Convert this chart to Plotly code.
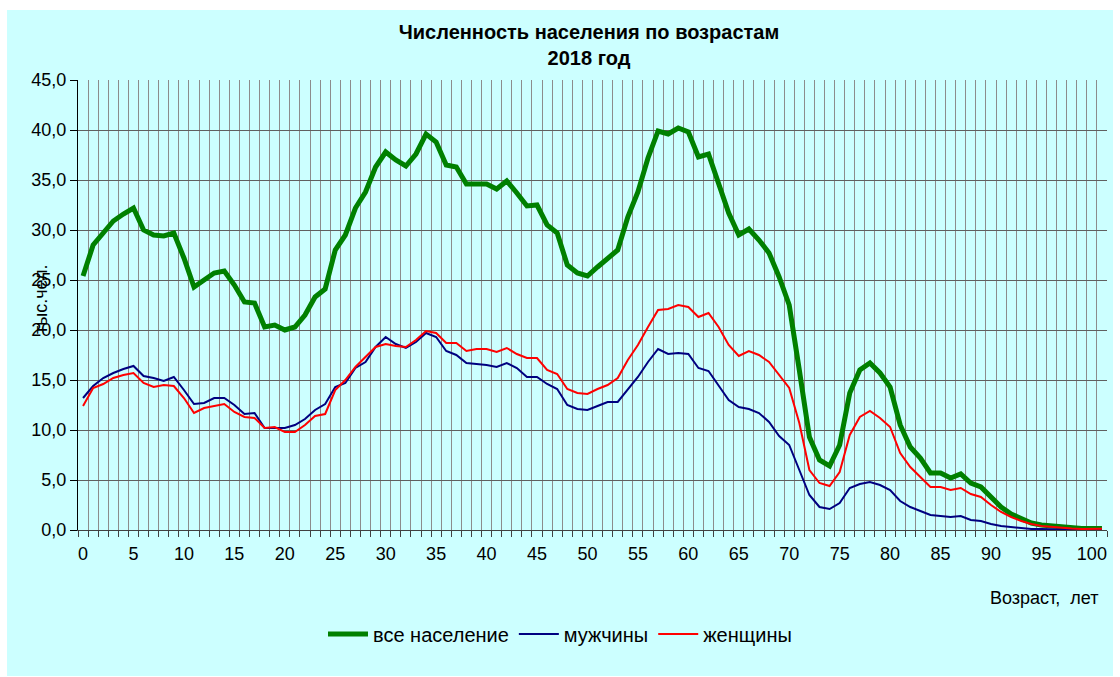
import plotly.graph_objects as go

ages = list(range(0, 102))

total = [
    25.4, 28.5, 29.7, 30.9, 31.6, 32.2, 30.0, 29.5, 29.4, 29.7,
    27.2, 24.3, 25.0, 25.7, 25.9, 24.5, 22.8, 22.7, 20.3, 20.5,
    20.0, 20.3, 21.5, 23.3, 24.1, 28.0, 29.5, 32.2, 33.8, 36.3,
    37.8, 37.0, 36.4, 37.6, 39.6, 38.8, 36.5, 36.3, 34.6, 34.6,
    34.6, 34.1, 34.9, 33.7, 32.4, 32.5, 30.5, 29.7, 26.5, 25.7,
    25.4, 26.3, 27.2, 28.0, 31.3, 33.8, 37.2, 39.9, 39.6, 40.2,
    39.8, 37.3, 37.6, 34.7, 31.7, 29.5, 30.1, 29.0, 27.7, 25.3,
    22.5, 16.0, 9.3, 7.0, 6.4, 8.5, 13.7, 16.0, 16.7, 15.7,
    14.3, 10.5, 8.3, 7.2, 5.7, 5.7, 5.2, 5.6, 4.7, 4.3,
    3.3, 2.3, 1.6, 1.1, 0.7, 0.5, 0.4, 0.3, 0.2, 0.15,
    0.15, 0.15,
]

men = [
    13.2, 14.4, 15.2, 15.7, 16.1, 16.4, 15.4, 15.2, 14.9, 15.3,
    14.0, 12.6, 12.7, 13.2, 13.2, 12.5, 11.6, 11.7, 10.2, 10.2,
    10.2, 10.5, 11.1, 12.0, 12.6, 14.3, 14.7, 16.2, 16.8, 18.3,
    19.3, 18.6, 18.2, 18.8, 19.7, 19.3, 17.9, 17.5, 16.7, 16.6,
    16.5, 16.3, 16.7, 16.2, 15.3, 15.3, 14.6, 14.1, 12.5, 12.1,
    12.0, 12.4, 12.8, 12.8, 14.0, 15.3, 16.8, 18.1, 17.6, 17.7,
    17.6, 16.2, 15.9, 14.5, 13.0, 12.3, 12.1, 11.7, 10.8, 9.4,
    8.5, 6.0, 3.5, 2.3, 2.1, 2.7, 4.2, 4.6, 4.8, 4.5,
    4.0, 2.9, 2.3, 1.9, 1.5, 1.4, 1.3, 1.4, 1.0, 0.9,
    0.6, 0.4, 0.3, 0.2, 0.1, 0.1, 0.05, 0.04, 0.03, 0.03,
    0.03, 0.02,
]

women = [
    12.4, 14.2, 14.6, 15.2, 15.5, 15.7, 14.7, 14.3, 14.5, 14.4,
    13.2, 11.7, 12.2, 12.4, 12.6, 11.8, 11.3, 11.2, 10.2, 10.3,
    9.8, 9.8, 10.5, 11.4, 11.6, 14.0, 15.0, 16.3, 17.3, 18.3,
    18.6, 18.4, 18.3, 19.0, 19.9, 19.7, 18.7, 18.7, 17.9, 18.1,
    18.1, 17.8, 18.2, 17.6, 17.2, 17.2, 16.0, 15.6, 14.1, 13.7,
    13.6, 14.1, 14.5, 15.2, 17.0, 18.5, 20.3, 22.0, 22.1, 22.5,
    22.3, 21.3, 21.7, 20.3, 18.5, 17.4, 17.9, 17.5, 16.8, 15.5,
    14.2, 10.7, 6.0, 4.7, 4.4, 5.8, 9.5, 11.3, 11.9, 11.2,
    10.3, 7.7, 6.3, 5.3, 4.3, 4.3, 4.0, 4.2, 3.6, 3.3,
    2.5, 1.8, 1.3, 0.9, 0.6, 0.4, 0.3, 0.25, 0.15, 0.1,
    0.12, 0.12,
]

x_tick_vals = list(range(0, 101, 5))
x_tick_text = [str(v) for v in x_tick_vals]
series_names = ["все население", "мужчины", "женщины"]
title_text = "<b>Численность населения по возрастам<br>2018 год</b>"
y_title = "тыс.чел."
x_title = "Возраст,\u00a0 лет"

FONT = "Liberation Sans, Arial, sans-serif"
BG = "#CCFFFF"

fig = go.Figure()
fig.add_trace(go.Scatter(x=ages, y=total, mode="lines", name=series_names[0],
                         line=dict(color="#008000", width=5)))
fig.add_trace(go.Scatter(x=ages, y=men, mode="lines", name=series_names[1],
                         line=dict(color="#000080", width=2)))
fig.add_trace(go.Scatter(x=ages, y=women, mode="lines", name=series_names[2],
                         line=dict(color="#FF0000", width=2)))

L, R, T, B = 78, 13, 80, 147
W, H = 1120, 677
pw = W - L - R
ph = H - T - B

def px_x(p):
    return (p - L) / pw

def px_y(p):
    return (H - B - p) / ph

fig.add_shape(type="rect", xref="paper", yref="paper",
              x0=px_x(7), x1=px_x(1113), y0=px_y(676), y1=px_y(10),
              fillcolor=BG, line=dict(width=0), layer="below")

fig.update_layout(
    width=W, height=H,
    margin=dict(l=L, r=R, t=T, b=B),
    paper_bgcolor="white",
    plot_bgcolor=BG,
    separators=", ",
    font=dict(family=FONT, size=16, color="black"),
    title=dict(text=title_text, font=dict(family=FONT, size=20, color="black"),
               xref="paper", x=px_x(589), xanchor="center",
               yref="container", y=1 - 39 / H, yanchor="middle"),
    showlegend=True,
    legend=dict(orientation="h", xref="container", yref="container",
                x=0.5, xanchor="center", y=1 - 634 / H, yanchor="middle",
                font=dict(family=FONT, size=20, color="black"),
                bgcolor="rgba(0,0,0,0)", itemwidth=40),
    xaxis=dict(
        range=[-0.5, 101.5],
        tickmode="array", tickvals=x_tick_vals, ticktext=x_tick_text,
        ticks="outside", ticklen=7, tickcolor="rgba(0,0,0,0)",
        showgrid=False, zeroline=False,
        showline=True, linecolor="#404040", linewidth=1,
        tickfont=dict(size=18, color="black"),
        minor=dict(tickvals=[i + 0.5 for i in range(-1, 102)],
                   showgrid=True, gridcolor="#8c8c8c", gridwidth=1,
                   ticks="outside", ticklen=6, tickcolor="#404040"),
    ),
    yaxis=dict(
        range=[0, 45], tick0=0, dtick=5, tickformat=".1f",
        showgrid=True, gridcolor="#606060", gridwidth=1.3,
        zeroline=False,
        showline=True, linecolor="black", linewidth=1,
        ticks="outside", ticklen=7, tickcolor="black",
        tickfont=dict(size=18, color="black"),
    ),
    annotations=[
        dict(text=y_title, xref="paper", yref="paper", x=px_x(41), y=px_y(300),
             textangle=-90, showarrow=False, xanchor="center", yanchor="middle",
             font=dict(family=FONT, size=18, color="black")),
        dict(text=x_title, xref="paper", yref="paper", x=px_x(1101), y=px_y(598),
             showarrow=False, xanchor="right", yanchor="middle",
             font=dict(family=FONT, size=18, color="black")),
    ],
)

fig.write_html("out.html", config={"displayModeBar": False},
               post_script="document.body.style.margin='0';")
